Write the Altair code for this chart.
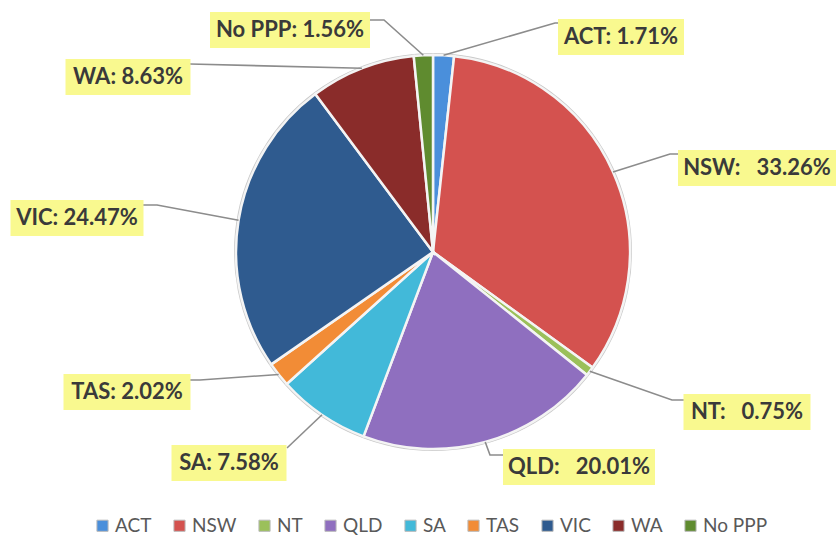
import math
import altair as alt
import pandas as pd

# ---------------- data ----------------
states = ["ACT", "NSW", "NT", "QLD", "SA", "TAS", "VIC", "WA", "No PPP"]
shares = [1.71, 33.26, 0.75, 20.01, 7.58, 2.02, 24.47, 8.63, 1.56]
colors = ["#4A8FDB", "#D4524F", "#9BC05A", "#8F6FBF", "#42B9D9",
          "#F28C36", "#2F5B8F", "#8A2C2A", "#5F8B2F"]

# ---------------- layout (pixels) ----------------
W, H = 838, 542
CX, CY, R = 433, 252, 197
NB = "\u00a0"
label_sep = [" ", NB * 3, NB * 3, NB * 3, " ", " ", " ", " ", " "]
label_cx = [621, 757, 747, 579, 229, 127, 77, 128, 290]
label_cy = [37, 168, 412, 467, 463, 392, 218, 77, 30]
box_w = [126, 158, 127, 152, 115, 127, 133, 125, 160]
box_h = 36
elbow = [(555, 23), (670, 154), (672, 400), (490, 455), None,
         (200, 380), (157, 205), None, (384, 20)]
attach = [(560, 23), (679, 154), (684, 400), (504, 455), (287, 448),
          (190, 380), (143, 205), (190, 64), (370, 20)]

# ---------------- derived tables ----------------
total = sum(shares)
pie_df = pd.DataFrame({"state": states, "share": shares, "idx": range(len(states))})

labels = [f"{s}:{sep}{v:.2f}%" for s, sep, v in zip(states, label_sep, shares)]
lab_df = pd.DataFrame({
    "state": states, "label": labels, "cx": label_cx, "cy": label_cy,
    "x1": [c - w / 2 for c, w in zip(label_cx, box_w)],
    "x2": [c + w / 2 for c, w in zip(label_cx, box_w)],
    "y1": [c - box_h / 2 for c in label_cy],
    "y2": [c + box_h / 2 for c in label_cy],
})

rows = []
cum = 0.0
for i, v in enumerate(shares):
    mid = (cum + v / 2) / total * 2 * math.pi
    cum += v
    ex = CX + R * math.sin(mid)
    ey = CY - R * math.cos(mid)
    pts = [(ex, ey)]
    if elbow[i] is not None:
        pts.append(elbow[i])
    pts.append(attach[i])
    for k, (px, py) in enumerate(pts):
        rows.append({"state": states[i], "k": k, "px": px, "py": py})
lead_df = pd.DataFrame(rows)

xs = alt.Scale(domain=[0, W])
ys = alt.Scale(domain=[0, H], reverse=True)

pie = alt.Chart(pie_df).mark_arc(
    outerRadius=R, stroke="#F4F4F4", strokeWidth=2.5
).encode(
    theta=alt.Theta("share:Q", stack=True),
    order=alt.Order("idx:Q"),
    color=alt.Color(
        "state:N",
        scale=alt.Scale(domain=states, range=colors),
        sort=states,
        legend=alt.Legend(
            orient="none", legendX=93, legendY=516, direction="horizontal",
            title=None, symbolType="square", symbolSize=125,
            labelFont="Lato", labelFontSize=19, labelColor="#595959",
            columnPadding=18, labelOffset=3,
            symbolStrokeColor="#BBBBBB", symbolStrokeWidth=1,
        ),
    ),
    x=alt.value(CX),
    y=alt.value(CY),
)

ring = alt.Chart(pd.DataFrame({"v": [1]})).mark_arc(
    theta=0, theta2=2 * math.pi, outerRadius=R + 2, innerRadius=R,
    fill="#C9C9C9",
).encode(x=alt.value(CX), y=alt.value(CY))

leaders = alt.Chart(lead_df).mark_line(color="#8C8C8C", strokeWidth=1.6).encode(
    x=alt.X("px:Q", scale=xs, axis=None),
    y=alt.Y("py:Q", scale=ys, axis=None),
    detail="state:N",
    order="k:Q",
)

boxes = alt.Chart(lab_df).mark_rect(color="#F9F98F").encode(
    x=alt.X("x1:Q", scale=xs, axis=None), x2="x2:Q",
    y=alt.Y("y1:Q", scale=ys, axis=None), y2="y2:Q",
)

texts = alt.Chart(lab_df).mark_text(
    font="Lato", fontWeight="bold", fontSize=22, color="#3A3A3A",
    align="center", baseline="middle",
).encode(
    x=alt.X("cx:Q", scale=xs, axis=None),
    y=alt.Y("cy:Q", scale=ys, axis=None),
    text="label:N",
)

chart = alt.layer(ring, pie, leaders, boxes, texts).properties(
    width=W, height=H, padding=0, autosize="none", background="white"
).configure_view(stroke=None)

chart.save("out.html", embed_options={"renderer": "svg", "actions": False})
